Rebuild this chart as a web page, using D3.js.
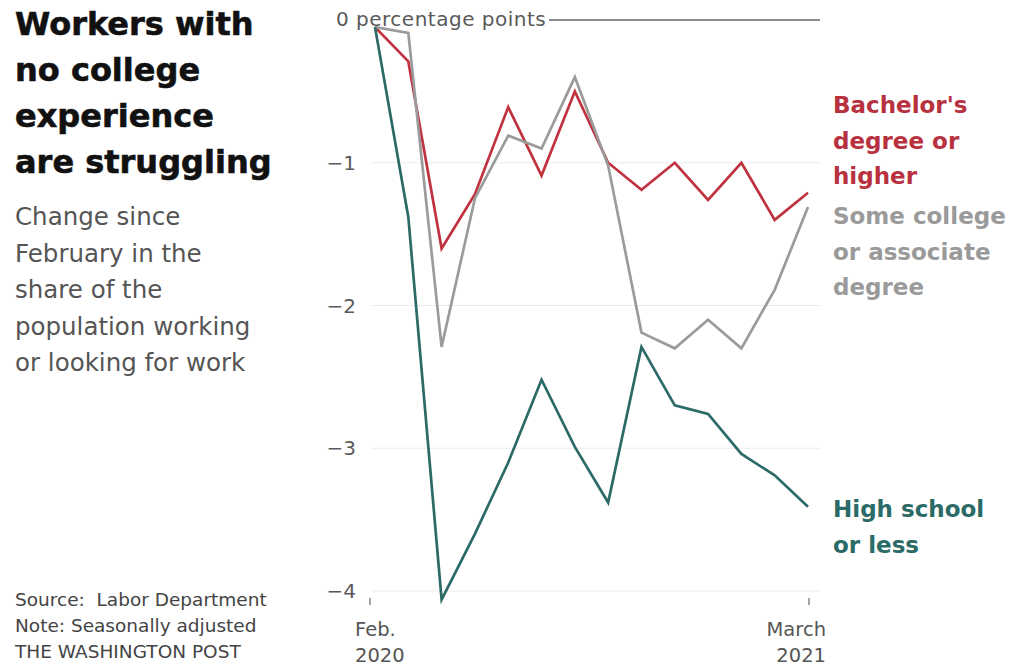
<!DOCTYPE html>
<html><head><meta charset="utf-8">
<script src="https://cdn.jsdelivr.net/npm/d3@7"></script>
<style>
html,body{margin:0;padding:0;background:#fff;}
svg{display:block;}
</style></head>
<body>
<svg id="chart" width="1015" height="667"></svg>
<script>
// ---- data ----
const months = ["Feb. 2020","Mar. 2020","Apr. 2020","May 2020","Jun. 2020","Jul. 2020","Aug. 2020","Sep. 2020","Oct. 2020","Nov. 2020","Dec. 2020","Jan. 2021","Feb. 2021","March 2021"];
const bachelor = [-0.05,-0.29,-1.60,-1.22,-0.61,-1.09,-0.50,-1.00,-1.19,-1.00,-1.26,-1.00,-1.40,-1.21];
const someCollege = [-0.05,-0.09,-2.29,-1.25,-0.81,-0.90,-0.40,-1.02,-2.19,-2.30,-2.10,-2.30,-1.89,-1.31];
const highSchool = [-0.05,-1.38,-4.06,-3.60,-3.10,-2.52,-2.99,-3.38,-2.29,-2.70,-2.76,-3.04,-3.19,-3.41];
const yTicks = [0,-1,-2,-3,-4];
const xTickLabels = [["Feb.","2020"],["March","2021"]];
const titleLines = ["Workers with","no college","experience","are struggling"];
const subtitleLines = ["Change since","February in the","share of the","population working","or looking for work"];
const footerLines = ["Source:\u00a0\u00a0Labor Department","Note: Seasonally adjusted","THE WASHINGTON POST"];
const seriesInfo = [
  {name:"Bachelor's degree or higher", lines:["Bachelor's","degree or","higher"], values:bachelor, color:"#c0323f", label:"#b8313f"},
  {name:"Some college or associate degree", lines:["Some college","or associate","degree"], values:someCollege, color:"#9b9b9b", label:"#9a9a9a"},
  {name:"High school or less", lines:["High school","or less"], values:highSchool, color:"#2b6a66", label:"#2b6a66"}
];
const labelY = [105, 216, 509]; // first-line centres of direct labels

// ---- drawing ----
const svg = d3.select("#chart");
const x = d3.scaleLinear().domain([0, months.length-1]).range([375, 808]);
const y = d3.scaleLinear().domain([0,-4]).range([20, 591]);

const sans = "'DejaVu Sans', sans-serif";

// gridlines
svg.append("g").selectAll("line").data(yTicks.filter(d=>d!==0)).join("line")
  .attr("x1", 372).attr("x2", 820)
  .attr("y1", d=>y(d)).attr("y2", d=>y(d))
  .attr("stroke", "#ececec").attr("stroke-width", 1.2);

// zero line
svg.append("line").attr("x1", 549).attr("x2", 820).attr("y1", y(0)).attr("y2", y(0))
  .attr("stroke", "#666").attr("stroke-width", 1.6);

// y tick labels
svg.append("g").selectAll("text").data(yTicks).join("text")
  .attr("x", d=> d===0 ? 336 : 356)
  .attr("y", d=> d===0 ? y(d)+6 : y(d)+7)
  .attr("text-anchor", d=> d===0 ? "start" : "end")
  .attr("font-family", sans).attr("font-size", 20).attr("letter-spacing", d=> d===0 ? 0.5 : 0).attr("fill", "#5a5a5a")
  .text(d=> d===0 ? "0 percentage points" : "\u2212" + Math.abs(d));

// x ticks
const xt = [0, months.length-1];
svg.append("g").selectAll("line").data(xt).join("line")
  .attr("x1", d=>x(d)-(d===0?5:-1)).attr("x2", d=>x(d)-(d===0?5:-1))
  .attr("y1", 598).attr("y2", 605).attr("stroke", "#666").attr("stroke-width", 1.2);
xt.forEach((d,i)=>{
  const t = svg.append("text")
    .attr("x", i===0 ? x(d)-20 : x(d)+18)
    .attr("y", 636)
    .attr("text-anchor", i===0 ? "start" : "end")
    .attr("font-family", sans).attr("font-size", 19.5).attr("fill", "#555");
  xTickLabels[i].forEach((s,j)=>{
    t.append("tspan").attr("x", i===0 ? x(d)-20 : x(d)+18).attr("dy", j===0?0:26).text(s);
  });
});

// lines
const line = d3.line().x((d,i)=>x(i)).y(d=>y(d)).curve(d3.curveLinear);
svg.append("g").selectAll("path").data(seriesInfo).join("path")
  .attr("d", d=>line(d.values))
  .attr("fill","none").attr("stroke", d=>d.color)
  .attr("stroke-width", 2.7).attr("stroke-linejoin","miter");

// direct labels
seriesInfo.forEach((s,k)=>{
  const t = svg.append("text").attr("x", 833).attr("y", labelY[k]+8)
    .attr("font-family", sans).attr("font-weight", "bold").attr("font-size", 23)
    .attr("fill", s.label);
  s.lines.forEach((l,j)=>{
    t.append("tspan").attr("x", 833).attr("dy", j===0?0:35.5).text(l);
  });
});

// title
const title = svg.append("text").attr("x", 15).attr("y", 35)
  .attr("font-family", sans).attr("font-weight","bold").attr("font-size", 32).attr("fill", "#111")
  .attr("stroke", "#111").attr("stroke-width", 0.6);
titleLines.forEach((l,j)=> title.append("tspan").attr("x", 15).attr("dy", j===0?0:46).text(l));

// subtitle
const sub = svg.append("text").attr("x", 15).attr("y", 225)
  .attr("font-family", sans).attr("font-size", 24.5).attr("fill", "#555");
subtitleLines.forEach((l,j)=> sub.append("tspan").attr("x", 15).attr("dy", j===0?0:36.5).text(l));

// footer
const foot = svg.append("text").attr("x", 15).attr("y", 606)
  .attr("font-family", sans).attr("font-size", 18.5).attr("fill", "#444");
footerLines.forEach((l,j)=> foot.append("tspan").attr("x", 15).attr("dy", j===0?0:26).text(l));
</script>
</body></html>
